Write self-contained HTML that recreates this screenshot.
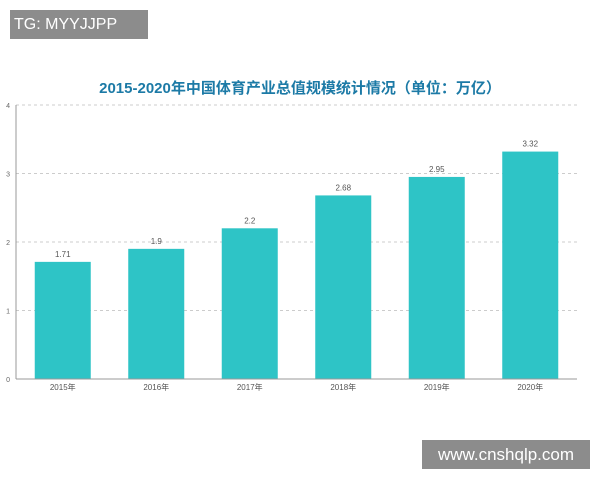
<!DOCTYPE html>
<html><head><meta charset="utf-8"><style>
body{margin:0;width:600px;height:480px;background:#fff;overflow:hidden;font-family:"Liberation Sans","Noto Sans CJK SC",sans-serif;position:relative}
.tag{position:absolute;background:#8c8c8c;color:#fff;font-size:16px;display:flex;align-items:center}
</style></head><body>
<div class="tag" style="left:10px;top:10px;width:138px;height:29px;padding-left:4px;box-sizing:border-box">TG: MYYJJPP</div>
<svg id="c" width="600" height="480" style="position:absolute;left:0;top:0">
<text x="300" y="93" text-anchor="middle" font-size="15" font-weight="bold" fill="#1c7aa6">2015-2020年中国体育产业总值规模统计情况（单位：万亿）</text>
</svg>
<div class="tag" style="left:422px;top:440px;width:168px;height:29px;justify-content:center;font-size:17px">www.cnshqlp.com</div>
<script>
const categories=["2015年","2016年","2017年","2018年","2019年","2020年"];
const values=[1.71,1.9,2.2,2.68,2.95,3.32];
const labels=["1.71","1.9","2.2","2.68","2.95","3.32"];
const ticks=[0,1,2,3,4];
const NS="http://www.w3.org/2000/svg",svg=document.getElementById('c');
const x0=16,x1=577,yb=379,yt=105,ymax=4;
const band=(x1-x0)/categories.length;
const y=v=>yb-(yb-yt)*v/ymax;
const xc=i=>x0+band*(i+0.5);
function mk(t,a){const e=document.createElementNS(NS,t);for(const k in a)e.setAttribute(k,a[k]);svg.appendChild(e);return e;}
ticks.forEach(t=>{
 if(t>0){const g=mk('line',{x1:x0,x2:x1,y1:y(t),y2:y(t),stroke:'#ccc','stroke-dasharray':'3,3'});
 
 }
 const l=mk('text',{x:x0-6,y:y(t)+3,'text-anchor':'end','font-size':7,fill:'#666'});l.textContent=t;
 
 
});
values.forEach((v,i)=>{
 const w=56;
 const r=mk('rect',{x:xc(i)-w/2,y:y(v),width:w,height:yb-y(v),fill:'#2ec4c6'});
 
 
 const t=mk('text',{x:xc(i),y:y(v)-5,'text-anchor':'middle','font-size':8,fill:'#555'});t.textContent=labels[i];
 
 
 const c=mk('text',{x:xc(i),y:yb+11,'text-anchor':'middle','font-size':8,fill:'#555'});c.textContent=categories[i];
 
 
});
const ya=mk('line',{x1:x0,x2:x0,y1:yt,y2:yb,stroke:'#999'});


const xa=mk('line',{x1:x0,x2:x1,y1:yb,y2:yb,stroke:'#999'});


</script>
</body></html>
